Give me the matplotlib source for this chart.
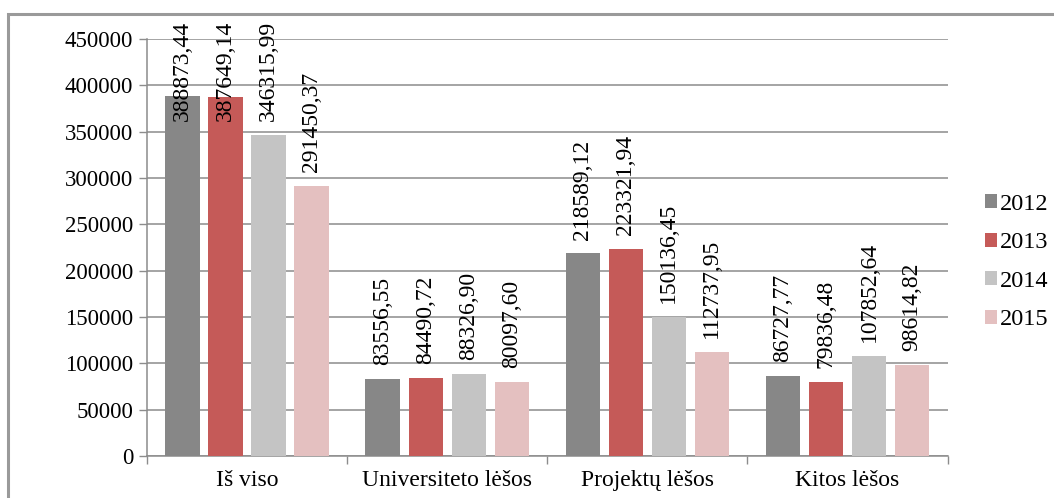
import numpy as np
import matplotlib.pyplot as plt
from matplotlib.patches import Rectangle

plt.rcParams['font.family'] = ['Liberation Serif', 'DejaVu Serif']

categories = ['Iš viso', 'Universiteto lėšos', 'Projektų lėšos', 'Kitos lėšos']
years = ['2012', '2013', '2014', '2015']
values = {
    '2012': [388873.44, 83556.55, 218589.12, 86727.77],
    '2013': [387649.14, 84490.72, 223321.94, 79836.48],
    '2014': [346315.99, 88326.90, 150136.45, 107852.64],
    '2015': [291450.37, 80097.60, 112737.95, 98614.82],
}
colors = ['#878787', '#C55A58', '#C4C4C4', '#E4C0C0']

fig = plt.figure(figsize=(10.54, 4.98), dpi=100)
ax = fig.add_axes([0.1395, 0.0843, 0.7595, 0.8374])

# outer chart frame (top and left only visible)
fig.add_artist(Rectangle((8 / 1054, -0.1), 1.2, (498 - 14) / 498 + 0.1,
                         transform=fig.transFigure, fill=False,
                         edgecolor='#9a9a9a', linewidth=2.2))

x = np.arange(len(categories))
step = 0.215
width = 0.172
for i, yr in enumerate(years):
    pos = x + (i - 1.5) * step
    ax.bar(pos, values[yr], width=width, color=colors[i], label=yr, zorder=3)
    for p, v in zip(pos, values[yr]):
        txt = f'{v:.2f}'.replace('.', ',')
        yb = min(v + 15000, 362000)
        ax.text(p, yb, txt, rotation=90, ha='center', va='bottom',
                fontsize=17, zorder=4, clip_on=False)

ax.set_xlim(-0.5, 3.5)
ax.set_ylim(0, 450000)
ax.set_yticks(np.arange(0, 450001, 50000))
ax.set_yticklabels([str(t) for t in range(0, 450001, 50000)], fontsize=16.5)
ax.yaxis.grid(True, color='#8c8c8c', linewidth=1.1, zorder=0)
ax.set_axisbelow(True)

ax.set_xticks(x)
ax.set_xticklabels(categories, fontsize=17)
ax.set_xticks(np.arange(-0.5, 3.6, 1), minor=True)
ax.tick_params(axis='x', which='major', length=0, pad=10)
ax.tick_params(axis='x', which='minor', length=6, color='#8c8c8c', width=1)
ax.tick_params(axis='y', length=6, color='#8c8c8c', width=1, pad=4)

for s in ['top', 'right']:
    ax.spines[s].set_visible(False)
for s in ['left', 'bottom']:
    ax.spines[s].set_color('#8c8c8c')
    ax.spines[s].set_linewidth(1.1)

ax.legend(loc='center left', bbox_to_anchor=(1.035, 0.465), frameon=False,
          fontsize=17.5, handlelength=0.5, handleheight=0.5, handletextpad=0.1,
          labelspacing=0.72, borderaxespad=0)

fig.savefig('out.png', dpi=100)
